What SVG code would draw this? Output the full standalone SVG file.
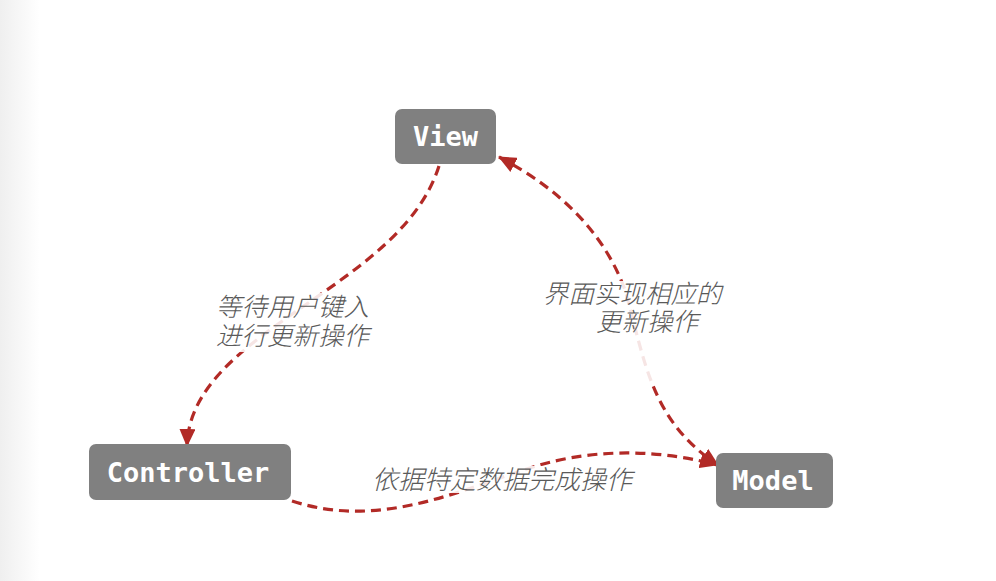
<svg xmlns="http://www.w3.org/2000/svg" width="996" height="581" viewBox="0 0 996 581">
  <defs>
    <linearGradient id="edge" x1="0" y1="0" x2="1" y2="0">
      <stop offset="0" stop-color="#efefef"/>
      <stop offset="1" stop-color="#ffffff"/>
    </linearGradient>
    <marker id="arrow" viewBox="0 0 18 16" markerWidth="18" markerHeight="16" refX="17" refY="8" orient="auto-start-reverse" markerUnits="userSpaceOnUse">
      <path d="M0,0 L18,8 L0,16 z" fill="#b22a26"/>
    </marker>
    <style>
      .node rect { fill: #808080; }
      .node text { fill: #ffffff; font-family: "DejaVu Sans Mono", "Liberation Mono", monospace; font-weight: bold; font-size: 27px; text-anchor: middle; }
      .edge { fill: none; stroke: #b22a26; stroke-width: 3.2; stroke-dasharray: 10 6; }
      .lbg { fill: #ffffff; fill-opacity: 0.88; }
      .lbl { fill: #5a5a5a; font-family: "Noto Sans CJK SC", "Noto Sans", sans-serif; font-style: italic; font-weight: 300; font-size: 25.5px; }
    </style>
  </defs>
  <rect x="0" y="0" width="996" height="581" fill="#ffffff"/>
  <rect x="0" y="0" width="40" height="581" fill="url(#edge)"/>

  <g id="connectors">
    <path class="edge" d="M439,166 C400,290 190,330 187,446" marker-end="url(#arrow)"/>
    <path class="edge" d="M499,157 C562,190 605,235 625,290 C645,360 650,420 718,465" marker-start="url(#arrow)" marker-end="url(#arrow)"/>
    <path class="edge" d="M292,501 C380,530 460,490 530,468 C600,445 670,452 717,465" marker-end="url(#arrow)"/>
  </g>

  <g id="label-view-controller">
    <rect class="lbg" x="214" y="293" width="158" height="59"/>
    <text class="lbl"><tspan x="216" y="316">等待用户键入</tspan><tspan x="216" y="345">进行更新操作</tspan></text>
  </g>
  <g id="label-model-view">
    <rect class="lbg" x="541" y="281" width="189" height="102"/>
    <text class="lbl"><tspan x="543" y="303">界面实现相应的</tspan><tspan x="596" y="331">更新操作</tspan></text>
  </g>
  <g id="label-controller-model">
    <rect class="lbg" x="370" y="466" width="265" height="27"/>
    <text class="lbl" x="372" y="489" style="font-size:26px">依据特定数据完成操作</text>
  </g>

  <g id="node-view" class="node">
    <rect x="395" y="109" width="101" height="55" rx="7"/>
    <text x="445.5" y="146">View</text>
  </g>
  <g id="node-controller" class="node">
    <rect x="89" y="444" width="202" height="56" rx="7"/>
    <text x="188" y="482">Controller</text>
  </g>
  <g id="node-model" class="node">
    <rect x="716" y="453" width="117" height="55" rx="7"/>
    <text x="773" y="490">Model</text>
  </g>
</svg>
